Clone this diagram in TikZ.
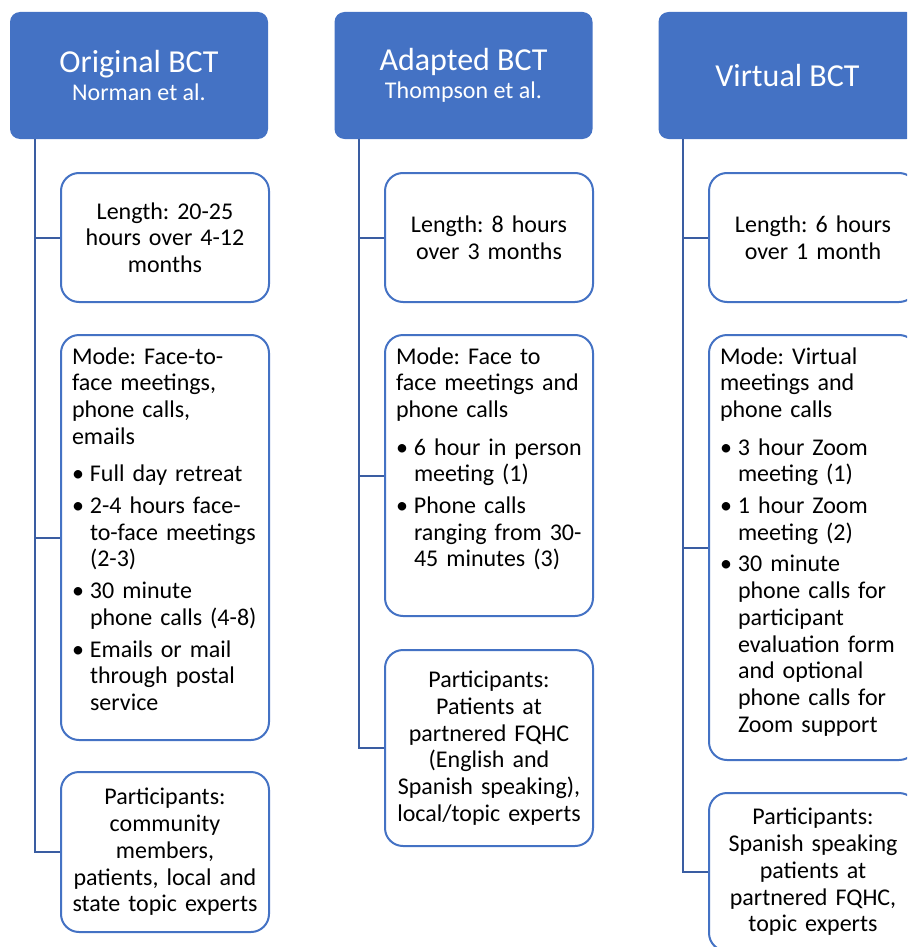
\documentclass[tikz,border=0pt]{standalone}
\usepackage{fontspec}
\setmainfont{Carlito}
\usetikzlibrary{positioning}
\frenchspacing
\definecolor{headblue}{HTML}{4472C4}
\definecolor{linkblue}{HTML}{3A5DA2}
\newcommand{\bul}[2][5pt]{\par\vspace{#1}\noindent\hangindent=18pt\hangafter=1\makebox[18pt][l]{\textbullet}#2\par}

\begin{document}
\begin{tikzpicture}[x=1pt, y=-1pt,
        headbox/.style={rectangle, rounded corners=10pt, fill=headblue, text=white, minimum width=258pt, minimum height=127pt, align=center, inner sep=0pt, font=\fontsize{32}{28}\selectfont},
        leafbox/.style={rectangle, rounded corners=18pt, draw=headblue, line width=2pt, fill=white, text width=186pt, inner xsep=11pt, inner ysep=8pt, align=center, font=\fontsize{24}{26.7}\selectfont},
        modebox/.style={leafbox, align=left, text height=21pt},
        link/.style={draw=linkblue, line width=2pt}]
            \useasboundingbox (0,0) rectangle (907,947);
            \clip (0,0) rectangle (907,947);

            \node[headbox] (orig) at (139,75.5) {Original BCT\\{\fontsize{24}{28}\selectfont Norman et al.}};
            \node[headbox] (adapt) at (463.5,75.5) {Adapted BCT\\{\fontsize{24}{28}\selectfont Thompson et al.}};
            \node[headbox] (virt) at (787.5,75.5) {Virtual BCT};

            \node[leafbox, minimum height=129pt] (origlen) at (165,237.5) {Length: 20-25\\hours over 4-12\\months};
            \node[modebox, text depth=368pt] (origmode) at (165,537.5) {Mode: Face-to-\\face meetings,\\phone calls,\\emails
                \bul[11pt]{Full day retreat}
                \bul{2-4 hours face-\newline to-face meetings\newline (2-3)}
                \bul{30 minute\newline phone calls (4-8)}
                \bul{Emails or mail\newline through postal\newline service}};
            \node[leafbox, minimum height=160pt] (origpart) at (165,852) {Participants:\\community\\members,\\patients, local and\\state topic experts};

            \node[leafbox, minimum height=129pt] (adaptlen) at (489,237.5) {Length: 8 hours\\over 3 months};
            \node[modebox, text depth=244pt] (adaptmode) at (489,475.5) {Mode: Face to\\face meetings and\\phone calls
                \bul[11pt]{6 hour in person\newline meeting (1)}
                \bul{Phone calls\newline ranging from 30-\newline 45 minutes (3)}};
            \node[leafbox, minimum height=196pt] (adaptpart) at (489,748) {Participants:\\Patients at\\partnered FQHC\\(English and\\Spanish speaking),\\local/topic experts};

            \node[leafbox, minimum height=129pt] (virtlen) at (813,237.5) {Length: 6 hours\\over 1 month};
            \node[modebox, text depth=388pt] (virtmode) at (813,547.5) {Mode: Virtual\\meetings and\\phone calls
                \bul[11pt]{3 hour Zoom\newline meeting (1)}
                \bul{1 hour Zoom\newline meeting (2)}
                \bul{30 minute\newline phone calls for\newline participant\newline evaluation form\newline and optional\newline phone calls for\newline Zoom support}};
            \node[leafbox, minimum height=158pt] (virtpart) at (813,872) {Participants:\\Spanish speaking\\patients at\\partnered FQHC,\\topic experts};

            \draw[link] ([xshift=25pt]orig.south west) |- (origlen.west);
            \draw[link] ([xshift=25pt]orig.south west) |- (origmode.west);
            \draw[link] ([xshift=25pt]orig.south west) |- (origpart.west);
            \draw[link] ([xshift=25pt]adapt.south west) |- (adaptlen.west);
            \draw[link] ([xshift=25pt]adapt.south west) |- (adaptmode.west);
            \draw[link] ([xshift=25pt]adapt.south west) |- (adaptpart.west);
            \draw[link] ([xshift=25pt]virt.south west) |- (virtlen.west);
            \draw[link] ([xshift=25pt]virt.south west) |- (virtmode.west);
            \draw[link] ([xshift=25pt]virt.south west) |- (virtpart.west);
        \end{tikzpicture}
\end{document}
